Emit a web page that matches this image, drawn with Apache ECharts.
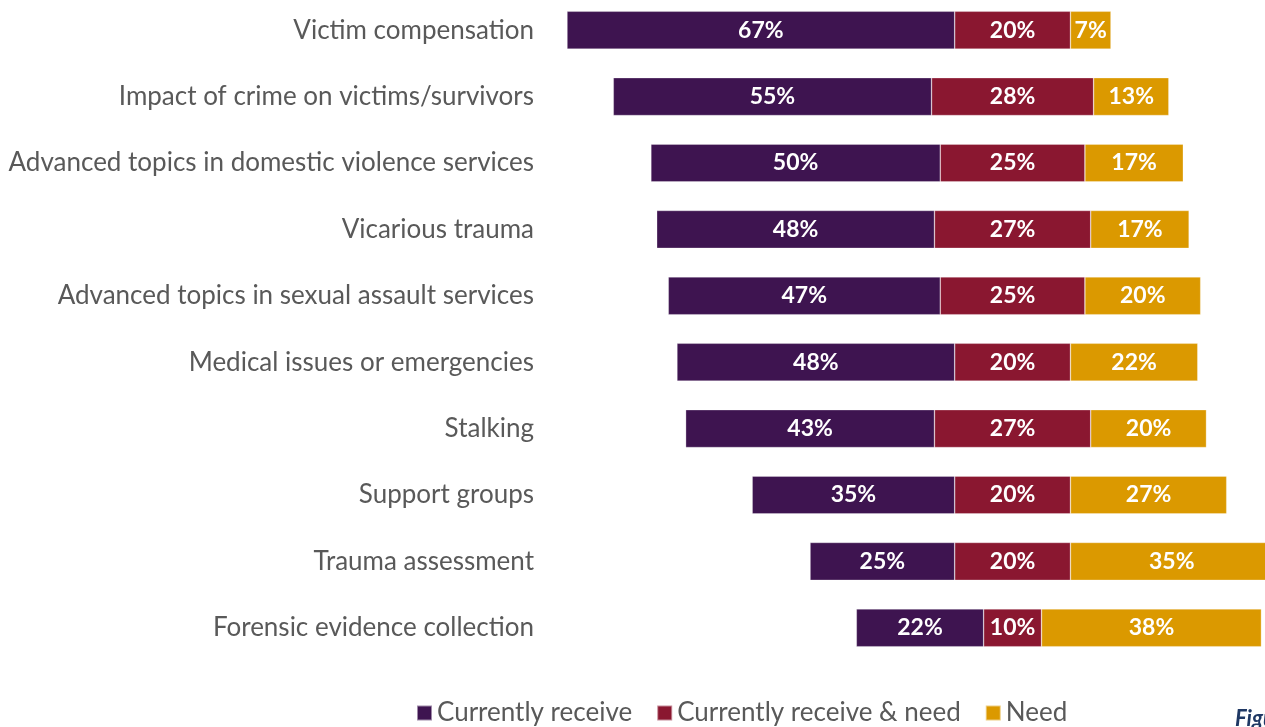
<!DOCTYPE html>
<html><head><meta charset="utf-8">
<script src="https://cdn.jsdelivr.net/npm/echarts@6/dist/echarts.min.js"></script>
<style>html,body{margin:0;padding:0;background:#fff}#c{width:1265px;height:727px}</style>
</head><body><div id="c"></div>
<script>
const categories = ["Victim compensation","Impact of crime on victims/survivors","Advanced topics in domestic violence services","Vicarious trauma","Advanced topics in sexual assault services","Medical issues or emergencies","Stalking","Support groups","Trauma assessment","Forensic evidence collection"];
const currentlyReceive = [67,55,50,48,47,48,43,35,25,22];
const receiveAndNeed = [20,28,25,27,25,20,27,20,20,10];
const need = [7,13,17,17,20,22,20,27,35,38];
const seriesNames = ["Currently receive","Currently receive & need","Need"];
const colors = ["#3E1450","#8A1730","#DB9900"];

const center = 77;
const offset = categories.map((c,i)=> center - currentlyReceive[i] - receiveAndNeed[i]/2);

const chart = echarts.init(document.getElementById('c'));
const lbl = {show:true, position:'inside', color:'#fff', fontFamily:'Lato', fontWeight:'bold', fontSize:23, formatter:'{c}%'};
function seg(name, data, color){
  return {name, type:'bar', stack:'s', data, barCategoryGap:'43%',
    itemStyle:{color, borderColor:'rgba(255,255,255,0.5)', borderWidth:0.6},
    label:lbl, emphasis:{disabled:true}};
}
chart.setOption({
  animation:false,
  grid:{left:567, top:-3, width:706, height:664, containLabel:false, outerBoundsMode:'none'},
  xAxis:{type:'value', min:0, max:122, show:false},
  yAxis:{type:'category', data:categories, inverse:true,
    axisLine:{show:false}, axisTick:{show:false},
    axisLabel:{margin:33, color:'#595959', fontFamily:'Lato', fontSize:26}},
  legend:{bottom:-4, left:411, data:seriesNames, itemWidth:15, itemHeight:15, itemGap:24,
    icon:'rect', textStyle:{fontFamily:'Lato', fontSize:26, color:'#595959'}},
  series:[
    {name:'base', type:'bar', stack:'s', data:offset, itemStyle:{color:'transparent'}, silent:true, barCategoryGap:'43%'},
    seg(seriesNames[0], currentlyReceive, colors[0]),
    seg(seriesNames[1], receiveAndNeed, colors[1]),
    seg(seriesNames[2], need, colors[2])
  ],
  graphic:[{type:'text', left:1235, top:708, style:{text:'Figure', fontFamily:'Lato', fontStyle:'italic', fontWeight:'bold', fontSize:22, fill:'#1F3864'}}]
});
</script></body></html>
